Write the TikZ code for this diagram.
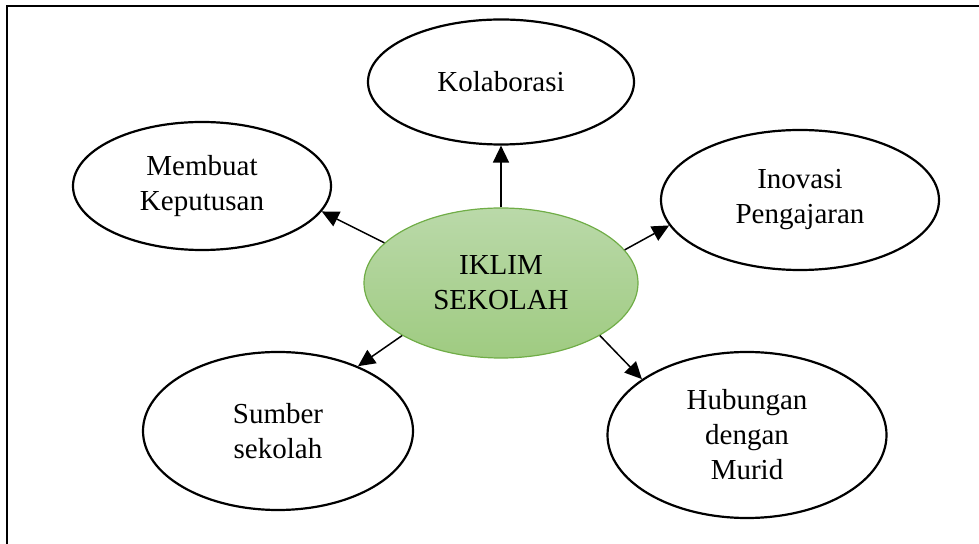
\documentclass[tikz,border=0pt]{standalone}
\usepackage{fontspec}
\setmainfont{Liberation Serif}
\usetikzlibrary{shapes.geometric,arrows.meta}

\definecolor{iklimtop}{HTML}{BAD9A9}
\definecolor{iklimbot}{HTML}{9FCB81}
\definecolor{iklimline}{HTML}{70AD47}

\begin{document}
\begin{tikzpicture}[x=0.5pt,y=-0.5pt,
font=\fontsize{14.5}{17.5}\selectfont,
bubble/.style={ellipse,draw,line width=1.1pt,inner sep=0pt,align=center},
hub/.style={bubble,draw=iklimline,line width=0.6pt,top color=iklimtop,bottom color=iklimbot},
link/.style={->,>={Triangle[length=8.5pt,width=8pt]},line width=0.75pt}]
\useasboundingbox (0,0) rectangle (979,544);

% frame
\coordinate (tl) at (7,6);
\coordinate (tr) at (979,6);
\coordinate (bl) at (7,544);
\draw[line width=1pt] (bl) -- (tl) -- (tr);

\node[hub,minimum width=137pt,minimum height=75pt] (iklim) at (501,283) {IKLIM\\SEKOLAH};

\node[bubble,minimum width=133pt,minimum height=62.5pt] (kolab)   at (501,82)  {Kolaborasi};
\node[bubble,minimum width=129pt,minimum height=64pt]   (membuat) at (202,186) {Membuat\\Keputusan};
\node[bubble,minimum width=139pt,minimum height=70pt]   (inovasi) at (800,200) {Inovasi\\Pengajaran};
\node[bubble,minimum width=135pt,minimum height=79pt]   (sumber)  at (278,431) {Sumber\\sekolah};
\node[bubble,minimum width=139.5pt,minimum height=83pt] (hubung)  at (747,435) {Hubungan\\dengan\\Murid};

\draw[link] (iklim.north) -- (kolab.south);
\draw[link] (iklim.161) -- (membuat.348);
\draw[link] (iklim.15)  -- (inovasi.191);
\draw[link] (iklim.208) -- (sumber.39);
\draw[link] (iklim.332) -- (hubung.152);

\end{tikzpicture}
\end{document}
